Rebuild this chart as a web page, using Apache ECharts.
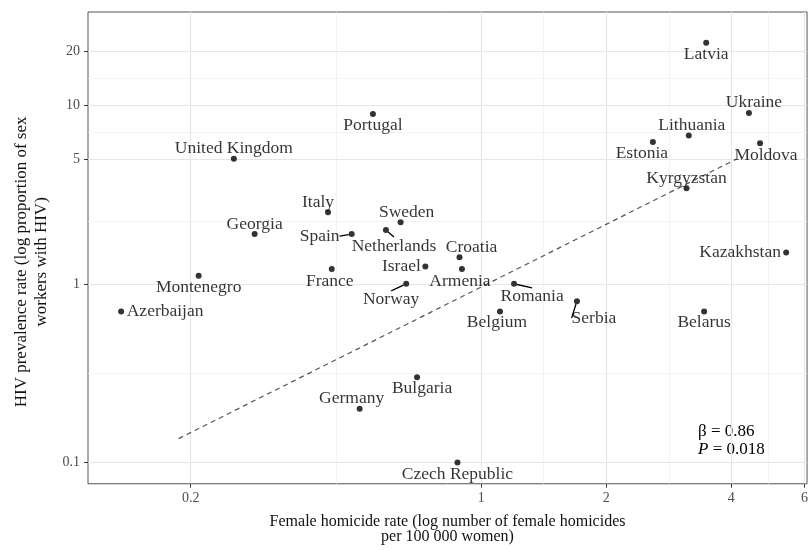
<!DOCTYPE html>
<html>
<head>
<meta charset="utf-8">
<script src="https://cdn.jsdelivr.net/npm/echarts@6/dist/echarts.min.js"></script>
<style>
html,body{margin:0;padding:0;background:#fff;}
#chart{width:811px;height:550px;}
</style>
</head>
<body>
<div id="chart"></div>
<script>
// ---- Data ----
const countries = ['Latvia','Ukraine','Lithuania','Estonia','Moldova','Kyrgyzstan','Kazakhstan','Belarus','Serbia','Romania','Belgium','Croatia','Armenia','Czech Republic','Bulgaria','Germany','Norway','Israel','Sweden','Netherlands','Spain','France','Italy','Portugal','Georgia','United Kingdom','Montenegro','Azerbaijan'];
const homicideRate = [3.48,4.41,3.16,2.59,4.69,3.12,5.42,3.44,1.70,1.20,1.11,0.887,0.899,0.877,0.701,0.510,0.660,0.734,0.640,0.590,0.488,0.437,0.428,0.549,0.285,0.254,0.209,0.136];
const hivPrevalence = [22.4,9.06,6.76,6.23,6.13,3.43,1.50,0.70,0.80,1.00,0.70,1.41,1.21,0.100,0.30,0.20,1.00,1.25,2.21,2.00,1.90,1.21,2.52,8.94,1.90,5.02,1.11,0.70];
const trendX = [0.187, 4.11];
const trendY = [0.136, 4.99];
const xTickValues = [0.2, 1, 2, 4, 6];
const xTickLabels = ['0.2', '1', '2', '4', '6'];
const xMinorValues = [0.4472, 1.4142, 2.8284, 4.899];
const yTickValues = [0.1, 1, 5, 10, 20];
const yTickLabels = ['0.1', '1', '5', '10', '20'];
const yMinorValues = [0.3162, 2.2361, 7.0711, 14.142];
const xRange = [0.1132, 6.085];
const yRange = [0.0760, 33.27];

// ---- Label placement (pixel offsets of label centres from their points) ----
const labelOffsets = {
  'Latvia':[0,12],'Ukraine':[5,-10],'Lithuania':[3,-10],'Estonia':[-11,11],'Moldova':[6,12],
  'Kyrgyzstan':[0,-10],'Kazakhstan':[-46,0],'Belarus':[0,11],'Serbia':[17,17],'Romania':[18,13],
  'Belgium':[-3,11],'Croatia':[12,-10],'Armenia':[-2,12],'Czech Republic':[0,12],'Bulgaria':[5,11],
  'Germany':[-8,-10],'Norway':[-15,16],'Israel':[-24,0],'Sweden':[6,-10],'Netherlands':[8,16],
  'Spain':[-32,2],'France':[-2,12],'Italy':[-10,-10],'Portugal':[0,11],'Georgia':[0,-10],
  'United Kingdom':[0,-10],'Montenegro':[0,12],'Azerbaijan':[44,0]
};
const leaderLines = ['Serbia','Romania','Norway','Netherlands','Spain'];

const L = Math.log10;
const SERIF = '"Liberation Serif","Times New Roman",serif';

const scatterData = countries.map((c, i) => {
  const item = {
    name: c,
    value: [L(homicideRate[i]), L(hivPrevalence[i])]
  };
  if (leaderLines.indexOf(c) >= 0) {
    item.labelLine = { show: true, length2: 0, lineStyle: { color: '#000', width: 1.3 } };
  }
  return item;
});

function fmt(values, labels) {
  return function (v) {
    for (let i = 0; i < values.length; i++) {
      if (Math.abs(L(values[i]) - v) < 1e-6) return labels[i];
    }
    return '';
  };
}

const majorGrid = { show: true, lineStyle: { color: '#e6e6e6', width: 1.2 } };
const minorGrid = { show: true, lineStyle: { color: '#f0f0f0', width: 0.8 } };

const chart = echarts.init(document.getElementById('chart'), null, { renderer: 'canvas' });
chart.setOption({
  backgroundColor: '#fff',
  animation: false,
  grid: { left: 88, right: 1, top: 12, bottom: 66, show: true, borderColor: '#555', borderWidth: 1, backgroundColor: 'transparent' },
  xAxis: [
    {
      type: 'value', min: L(xRange[0]), max: L(xRange[1]),
      axisLine: { show: false, onZero: false },
      axisTick: { show: true, length: 4, lineStyle: { color: '#333' }, customValues: xTickValues.map(L) },
      axisLabel: { customValues: xTickValues.map(L), formatter: fmt(xTickValues, xTickLabels), margin: 8, color: '#4d4d4d', fontFamily: SERIF, fontSize: 14 },
      splitLine: majorGrid,
      name: 'Female homicide rate (log number of female homicides\nper 100 000 women)',
      nameLocation: 'middle', nameGap: 30,
      nameTextStyle: { fontFamily: SERIF, fontSize: 16, lineHeight: 15.5, color: '#111' }
    },
    {
      type: 'value', min: L(xRange[0]), max: L(xRange[1]), position: 'bottom',
      axisLine: { show: false, onZero: false },
      axisTick: { show: false, customValues: xMinorValues.map(L) },
      axisLabel: { show: false },
      splitLine: minorGrid
    }
  ],
  yAxis: [
    {
      type: 'value', min: L(yRange[0]), max: L(yRange[1]),
      axisLine: { show: false, onZero: false },
      axisTick: { show: true, length: 4, lineStyle: { color: '#333' }, customValues: yTickValues.map(L) },
      axisLabel: { customValues: yTickValues.map(L), formatter: fmt(yTickValues, yTickLabels), margin: 8, color: '#4d4d4d', fontFamily: SERIF, fontSize: 14 },
      splitLine: majorGrid,
      name: 'HIV prevalence rate (log proportion of sex\nworkers with HIV)',
      nameLocation: 'middle', nameGap: 35,
      nameTextStyle: { fontFamily: SERIF, fontSize: 17, lineHeight: 20, color: '#111', padding: [0, 28, 0, 0] }
    },
    {
      type: 'value', min: L(yRange[0]), max: L(yRange[1]), position: 'left',
      axisLine: { show: false, onZero: false },
      axisTick: { show: false, customValues: yMinorValues.map(L) },
      axisLabel: { show: false },
      splitLine: minorGrid
    }
  ],
  series: [
    {
      type: 'line',
      data: trendX.map((x, i) => [L(x), L(trendY[i])]),
      symbol: 'none',
      lineStyle: { color: '#555', width: 1.2, type: [5, 4] },
      silent: true, z: 2
    },
    {
      type: 'scatter',
      data: scatterData,
      symbolSize: 6,
      itemStyle: { color: '#000' },
      label: { show: true, position: 'inside', formatter: '{b}', color: '#000', fontFamily: SERIF, fontSize: 17.5 },
      labelLine: { show: false },
      labelLayout: function (p) {
        const o = labelOffsets[countries[p.dataIndex]];
        return { dx: o[0], dy: o[1] };
      },
      z: 3
    }
  ],
  graphic: [
    {
      type: 'text', left: 698, top: 423,
      style: {
        text: 'β = 0.86\n{i|P} = 0.018',
        fontFamily: SERIF, fontSize: 17, lineHeight: 17.5, fill: '#000', align: 'center',
        rich: { i: { fontStyle: 'italic', fontFamily: SERIF, fontSize: 17 } }
      }
    }
  ]
});
</script>
</body>
</html>
